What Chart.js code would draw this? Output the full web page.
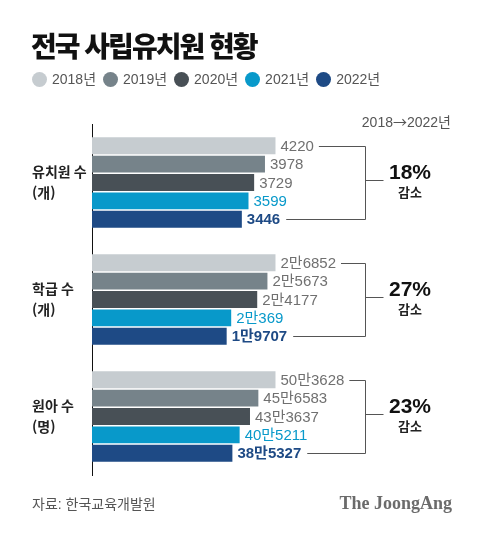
<!DOCTYPE html>
<html lang="ko">
<head>
<meta charset="utf-8">
<script src="https://cdn.jsdelivr.net/npm/chart.js@4"></script>
<style>
    html, body {
        margin: 0;
        padding: 0;
        background: #fff;
    }

    .page {
        position: relative;
        width: 480px;
        height: 533px;
        overflow: hidden;
        font-family: "Liberation Sans", "Noto Sans CJK KR", sans-serif;
    }

    .page canvas {
        position: absolute;
        left: 0;
        top: 0;
    }

    .title {
        position: absolute;
        left: 31px;
        top: 31px;
        margin: 0;
        font: 900 28px/28px "Noto Sans CJK KR", sans-serif;
        letter-spacing: -2px;
        color: #111;
    }

    .legend {
        position: absolute;
        left: 32px;
        top: 71px;
        display: flex;
        font-size: 14px;
        line-height: 16px;
        color: #555;
    }

    .legend span {
        display: flex;
        align-items: center;
        margin-right: 7px;
    }

    .legend i {
        display: inline-block;
        width: 15px;
        height: 15px;
        border-radius: 50%;
        margin-right: 5px;
    }

    .period {
        position: absolute;
        right: 29px;
        top: 113px;
        font-size: 14px;
        line-height: 16px;
        color: #555;
    }

    .period b {
        font-weight: normal;
        font-family: "Noto Sans CJK KR", sans-serif;
    }

    .source {
        position: absolute;
        left: 32px;
        top: 495px;
        font-size: 14px;
        line-height: 18px;
        color: #555;
    }

    .brand {
        position: absolute;
        right: 28px;
        top: 493px;
        font: 700 18px/20px "Liberation Serif", "DejaVu Serif", serif;
        color: #6b6b6b;
    }
</style>
</head>
<body>
<div class="page">
    <canvas id="chart" width="480" height="533"></canvas>
    <h1 class="title">전국 사립유치원 현황</h1>
    <div class="legend" id="legend"></div>
    <div class="period">2018<b>→</b>2022년</div>
    <div class="source">자료: 한국교육개발원</div>
    <div class="brand">The JoongAng</div>
</div>

<script>
    const categories = [["유치원 수", "(개)"], ["학급 수", "(개)"], ["원아 수", "(명)"]];
    const years = ["2018년", "2019년", "2020년", "2021년", "2022년"];

    const v2018 = [4220, 26852, 503628];
    const v2019 = [3978, 25673, 456583];
    const v2020 = [3729, 24177, 433637];
    const v2021 = [3599, 20369, 405211];
    const v2022 = [3446, 19707, 385327];

    const series = [v2018, v2019, v2020, v2021, v2022];
    const colors = ["#c6ccd0", "#76838a", "#485056", "#0899ca", "#1e4a85"];
    const labelColors = ["#707070", "#707070", "#707070", "#0899ca", "#1e4a85"];

    // html legend
    const legend = document.getElementById("legend");
    years.forEach((y, i) => {
        const item = document.createElement("span");
        item.innerHTML = `<i style="background:${colors[i]}"></i>${y}`;
        legend.appendChild(item);
    });

    // 2만6852 style
    function formatKo(v) {
        if (v < 10000) return String(v);
        return Math.floor(v / 10000) + "만" + (v % 10000);
    }

    // each group is drawn relative to its 2018 value
    const datasets = series.map((values, i) => ({
        label: years[i],
        data: values.map((v, k) => v / v2018[k] * 100),
        raw: values,
        backgroundColor: colors[i],
        borderWidth: 0,
    }));

    const valueLabels = {
        id: "valueLabels",
        afterDatasetsDraw(chart) {
            const ctx = chart.ctx;
            ctx.save();
            ctx.textBaseline = "middle";
            ctx.textAlign = "left";
            chart.data.datasets.forEach((ds, i) => {
                const meta = chart.getDatasetMeta(i);
                ctx.fillStyle = labelColors[i];
                ctx.font = (i === 4 ? "bold " : "") + "15px 'Liberation Sans', 'Noto Sans CJK KR', sans-serif";
                meta.data.forEach((bar, k) => {
                    ctx.fillText(formatKo(ds.raw[k]), bar.x + 5, bar.y + 1);
                });
            });
            ctx.restore();
        }
    };

    const brackets = {
        id: "brackets",
        afterDatasetsDraw(chart) {
            const ctx = chart.ctx;
            const first = chart.getDatasetMeta(0);
            const last = chart.getDatasetMeta(4);
            const xv = 365.5;
            ctx.save();
            categories.forEach((c, k) => {
                const top = first.data[k];
                const bottom = last.data[k];
                ctx.font = "15px 'Liberation Sans', 'Noto Sans CJK KR', sans-serif";
                const topEnd = top.x + 5 + ctx.measureText(formatKo(v2018[k])).width + 5;
                ctx.font = "bold 15px 'Liberation Sans', 'Noto Sans CJK KR', sans-serif";
                const bottomEnd = bottom.x + 5 + ctx.measureText(formatKo(v2022[k])).width + 6;
                const yt = Math.round(top.y) + 0.5;
                const yb = Math.round(bottom.y) + 0.5;
                const mid = (yt + yb) / 2;

                ctx.strokeStyle = "#555";
                ctx.lineWidth = 1;
                ctx.beginPath();
                ctx.moveTo(topEnd, yt);
                ctx.lineTo(xv, yt);
                ctx.lineTo(xv, yb);
                ctx.lineTo(bottomEnd, yb);
                ctx.moveTo(xv, Math.round(mid - 3) + 0.5);
                ctx.lineTo(xv + 18, Math.round(mid - 3) + 0.5);
                ctx.stroke();

                const pct = Math.round((1 - v2022[k] / v2018[k]) * 100);
                ctx.textAlign = "center";
                ctx.textBaseline = "middle";
                ctx.fillStyle = "#111";
                ctx.font = "bold 21px 'Liberation Sans', sans-serif";
                ctx.fillText(pct + "%", 410, mid - 10);
                ctx.fillStyle = "#222";
                ctx.font = "bold 13px 'Noto Sans CJK KR', sans-serif";
                ctx.fillText("감소", 410, mid + 9);
            });
            ctx.restore();
        }
    };

    new Chart(document.getElementById("chart"), {
        type: "bar",
        data: { labels: categories, datasets },
        plugins: [valueLabels, brackets],
        options: {
            indexAxis: "y",
            responsive: false,
            animation: false,
            devicePixelRatio: 1,
            layout: { padding: { top: 124, bottom: 58, left: 32, right: 10 } },
            datasets: {
                bar: { categoryPercentage: 0.785, barPercentage: 0.92 }
            },
            plugins: {
                legend: { display: false },
                tooltip: { enabled: false },
            },
            scales: {
                x: { display: false, min: 0, max: 206 },
                y: {
                    grid: { display: false, drawTicks: false },
                    border: { display: true, color: "#111", width: 1 },
                    ticks: {
                        crossAlign: "far",
                        color: "#222",
                        font: { family: "'Noto Sans CJK KR', sans-serif", size: 14, weight: "600", lineHeight: 1.5 },
                    },
                    afterFit(scale) { scale.width = 60; },
                },
            },
        },
    });
</script>
</body>
</html>
